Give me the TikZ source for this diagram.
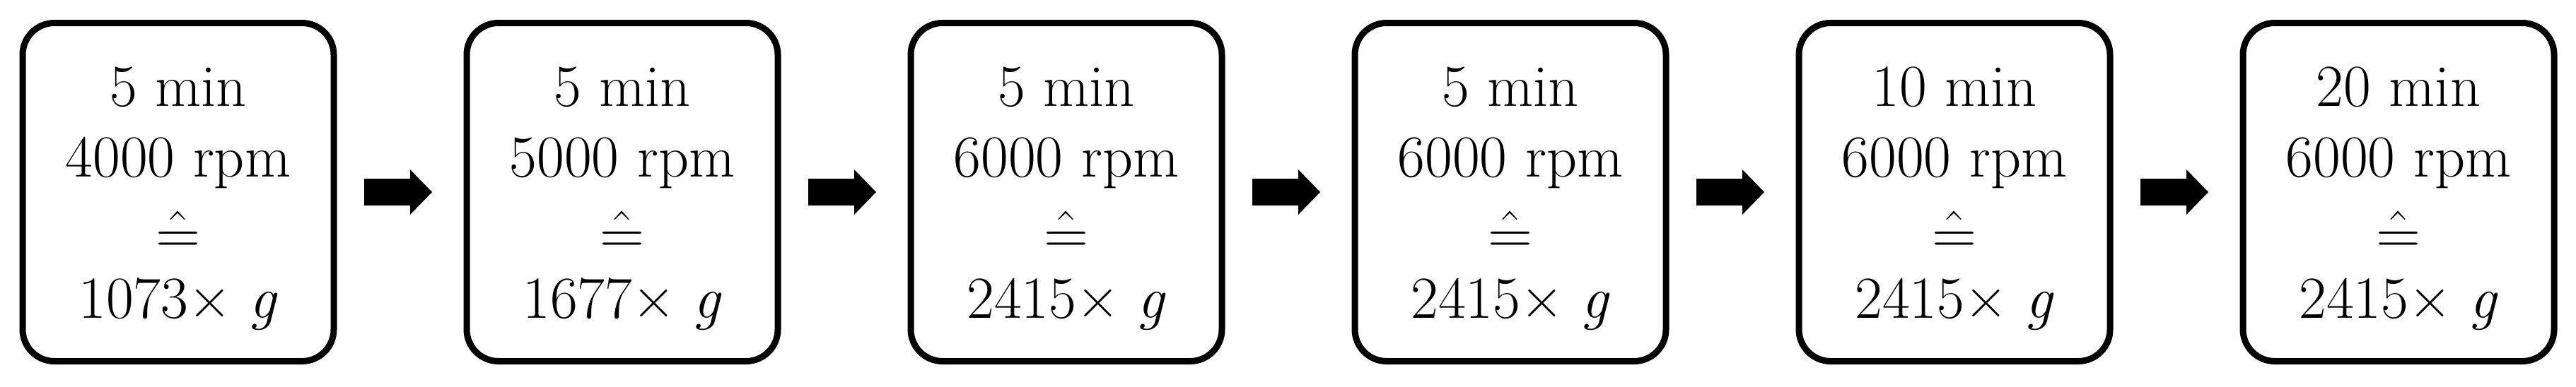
\documentclass[tikz,border=0pt]{standalone}
\usepackage{tikz}
\usetikzlibrary{positioning,arrows.meta}
\usepackage{amssymb}
\usepackage{amsmath}
\newcommand{\tstrut}{\rule{0pt}{21pt}}
\newcommand{\corr}{\raisebox{-2.5pt}{$\hat{=}$}}

\begin{document}
\begin{tikzpicture}
  [stepN/.style={draw,rounded corners=0.45cm,line width=0.09cm,
     minimum width=4.4cm,minimum height=4.79cm,inner sep=0pt,outer sep=0pt,
     align=center,font=\fontsize{24}{28.45}\selectfont},
   flowA/.style={line width=0.38cm,
     -{Triangle[width=0.64cm,length=0.31cm,line width=0pt]},
     shorten <=0.43cm,shorten >=0.49cm}]

  \useasboundingbox (0,0) rectangle (36.43,5.47);

  \node[stepN] (s1) at (2.52,2.75) {\tstrut 5 min\\4000 rpm\\\corr\\1073× \textit{g}};
  \node[stepN,right=1.88cm of s1] (s2) {\tstrut 5 min\\5000 rpm\\\corr\\1677× \textit{g}};
  \node[stepN,right=1.88cm of s2] (s3) {\tstrut 5 min\\6000 rpm\\\corr\\2415× \textit{g}};
  \node[stepN,right=1.88cm of s3] (s4) {\tstrut 5 min\\6000 rpm\\\corr\\2415× \textit{g}};
  \node[stepN,right=1.88cm of s4] (s5) {\tstrut 10 min\\6000 rpm\\\corr\\2415× \textit{g}};
  \node[stepN,right=1.88cm of s5] (s6) {\tstrut 20 min\\6000 rpm\\\corr\\2415× \textit{g}};

  \draw[flowA] (s1) -- (s2);
  \draw[flowA] (s2) -- (s3);
  \draw[flowA] (s3) -- (s4);
  \draw[flowA] (s4) -- (s5);
  \draw[flowA] (s5) -- (s6);
\end{tikzpicture}
\end{document}
